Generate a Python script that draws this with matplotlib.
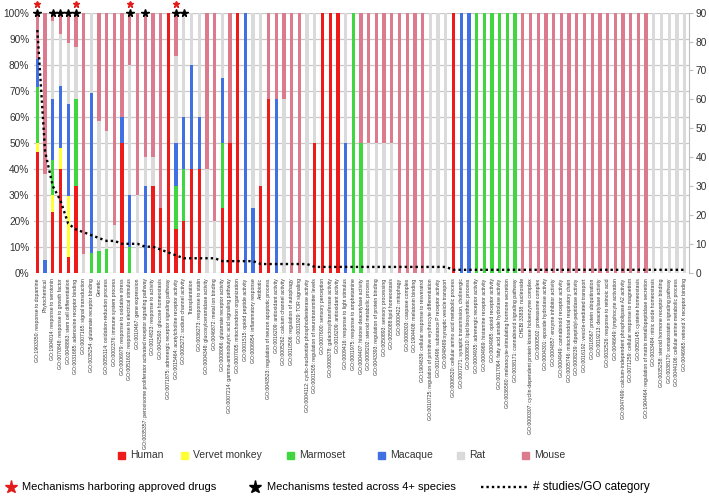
import matplotlib
import numpy as np

matplotlib.use("Agg")

from matplotlib import pyplot as plt  # noqa: E402
from matplotlib.lines import Line2D  # noqa: E402
from matplotlib.patches import Rectangle  # noqa: E402

labels = [
    "GO:1903350: response to dopamine", "Phytochemical", "GO:1904014: response to serotonin",
    "GO:0070848: response to growth factor", "GO:0048863: stem cell differentiation",
    "GO:0031685: adenosine receptor binding", "GO:0007165: signal transduction",
    "GO:0035254: glutamate receptor binding", "Genetic", "GO:0055114: oxidation-reduction process",
    "GO:0002376: immune system process", "GO:0006979: response to oxidative stress",
    "GO:0051602: response to electrical stimulus", "GO:0010467: gene expression",
    "GO:0035357: peroxisome proliferator activated receptor signaling pathway",
    "GO:0014823: response to activity", "GO:0042593: glucose homeostasis",
    "GO:0071875: adrenergic receptor signaling pathway", "GO:0015464: acetylcholine receptor activity",
    "GO:0005272: sodium channel activity", "Transplantation", "GO:0036273: response to statin",
    "GO:0004348: glucosylceramidase activity", "GO:0046872: metal ion binding",
    "GO:0008066: glutamate receptor activity", "GO:0007214: gamma-aminobutyric acid signaling pathway",
    "GO:0007005: mitochondrion organization", "GO:0001515: opioid peptide activity",
    "GO:0006954: inflammatory response", "Antibiotic",
    "GO:0043523: regulation of neuron apoptotic process", "GO:0016209: antioxidant activity",
    "GO:0005262: calcium channel activity", "GO:0010506: regulation of autophagy",
    "GO:0031929: TOR signaling", "GO:0004112: cyclic-nucleotide phosphodiesterase activity",
    "GO:0001505: regulation of neurotransmitter levels", "GO:0007600: sensory perception",
    "GO:0008378: galactosyltransferase activity", "GO:0016209: antioxidant activity",
    "GO:0009416: response to light stimulus", "GO:0001975: response to amphetamine",
    "GO:0004407: histone deacetylase activity", "GO:0008202: steroid metabolic process",
    "GO:0043393: regulation of protein binding", "GO:0050893: sensory processing",
    "GO:0055088:lipid homeostasis", "GO:0000422: mitophagy", "GO:0008303: caspase complex",
    "GO:1904408: melatonin binding", "GO:1904639: cellular response to resveratrol",
    "GO:0010725: regulation of primitive erythrocyte differentiation",
    "GO:0016496: substance P receptor activity", "GO:0048489:synaptic vesicle transport",
    "GO:0006520: cellular amino acid metabolic process", "GO:0007271: synaptic transmission, cholinergic",
    "GO:0008610: lipid biosynthetic process", "GO:0004935: adrenergic receptor activity",
    "GO:0004969: histamine receptor activity", "GO:0004985: opioid receptor activity",
    "GO:0017064: fatty acid amide hydrolase activity",
    "GO:0036580: melanocyte-stimulating hormone secretion",
    "GO:0038171: cannabinoid signaling pathway", "CHEBI:33838: nucleoside",
    "GO:0000307: cyclin-dependent protein kinase holoenzyme complex", "GO:0000502: proteasome complex",
    "GO:0004301: epoxide hydrolase activity", "GO:0004857: enzyme inhibitor activity",
    "GO:0004949: cannabinoid receptor activity", "GO:0005746: mitochondrial respiratory chain",
    "GO:0008239: dipeptidyl-peptidase activity", "GO:0016192: vesicle-mediated transport",
    "GO:0016567: protein ubiquitination", "GO:0019213: deacetylase activity",
    "GO:0032526: response to retinoic acid", "GO:0046649: lymphocyte activation",
    "GO:0047499: calcium-independent phospholipase A2 activity",
    "GO:0071259: cellular response to magnetism", "GO:0050145: cysteine homeostasis",
    "GO:1904464: regulation of matrix metallopeptidase secretion",
    "GO:0033484: nitric oxide homeostasis", "GO:0035258: steroid hormone receptor binding",
    "GO:0038170: somatostatin signaling pathway", "GO:0044106: cellular amine metabolic process",
    "GO:0046965: retinoid X receptor binding",
]

# number of studies per species and GO category
human = [39, 0, 7, 10, 1, 5, 0, 0, 0, 0, 0, 5, 0, 0, 0, 3, 2,
         7, 1, 1, 2, 2, 0, 0, 1, 2, 4, 0, 0, 1, 2, 0, 0, 0,
         0, 0, 1, 2, 2, 2, 0, 0, 0, 0, 0, 0, 0, 0, 0, 0, 0,
         0, 0, 0, 1, 0, 0, 0, 0, 0, 0, 0, 0, 0, 0, 0, 0, 0,
         0, 0, 0, 0, 0, 0, 0, 0, 0, 0, 0, 0, 0, 0, 0, 0, 0]
vervet = [3, 0, 2, 2, 4, 0, 0, 0, 0, 0, 0, 0, 0, 0, 0, 0, 0,
          0, 0, 0, 0, 0, 0, 0, 0, 0, 0, 0, 0, 0, 0, 0, 0, 0,
          0, 0, 0, 0, 0, 0, 0, 0, 0, 0, 0, 0, 0, 0, 0, 0, 0,
          0, 0, 0, 0, 0, 0, 0, 0, 0, 0, 0, 0, 0, 0, 0, 0, 0,
          0, 0, 0, 0, 0, 0, 0, 0, 0, 0, 0, 0, 0, 0, 0, 0, 0]
marmoset = [18, 0, 4, 0, 0, 5, 0, 1, 1, 1, 0, 0, 1, 0, 0, 0, 0,
            0, 1, 1, 0, 0, 0, 0, 1, 0, 0, 0, 0, 0, 0, 0, 0, 0,
            0, 0, 0, 0, 0, 0, 0, 2, 1, 0, 0, 0, 0, 0, 0, 0, 0,
            0, 0, 0, 0, 0, 0, 1, 1, 1, 1, 1, 1, 0, 0, 0, 0, 0,
            0, 0, 0, 0, 0, 0, 0, 0, 0, 0, 0, 0, 0, 0, 0, 0, 0]
macaque = [9, 2, 7, 6, 6, 0, 0, 8, 0, 0, 0, 1, 2, 0, 3, 0, 0,
           0, 1, 1, 2, 1, 0, 0, 1, 0, 0, 4, 1, 0, 0, 2, 0, 0,
           0, 0, 0, 0, 0, 0, 1, 0, 0, 0, 0, 0, 0, 0, 0, 0, 0,
           0, 0, 0, 0, 1, 1, 0, 0, 0, 0, 0, 0, 0, 0, 0, 0, 0,
           0, 0, 0, 0, 0, 0, 0, 0, 0, 0, 0, 0, 0, 0, 0, 0, 0]
rat = [0, 14, 9, 5, 4, 3, 1, 4, 6, 5, 2, 0, 5, 3, 1, 1, 0,
       0, 2, 2, 1, 2, 2, 1, 1, 0, 0, 0, 3, 2, 0, 0, 2, 0,
       0, 3, 1, 0, 0, 0, 1, 0, 0, 1, 1, 1, 1, 0, 0, 0, 0,
       2, 2, 2, 0, 0, 0, 0, 0, 0, 0, 0, 0, 0, 0, 0, 0, 0,
       0, 0, 0, 0, 0, 0, 0, 0, 0, 0, 0, 0, 1, 1, 1, 1, 1]
mouse = [15, 26, 1, 2, 2, 2, 13, 0, 5, 5, 9, 4, 2, 7, 5, 5, 6,
         0, 1, 0, 0, 0, 3, 4, 0, 2, 0, 0, 0, 0, 1, 1, 1, 3,
         3, 0, 0, 0, 0, 0, 0, 0, 1, 1, 1, 1, 1, 2, 2, 2, 2,
         0, 0, 0, 0, 0, 0, 0, 0, 0, 0, 0, 0, 1, 1, 1, 1, 1,
         1, 1, 1, 1, 1, 1, 1, 1, 1, 1, 1, 1, 0, 0, 0, 0, 0]

species = ["Human", "Vervet monkey", "Marmoset", "Macaque", "Rat", "Mouse"]
colors = ["#ee1b1b", "#ffff33", "#40d640", "#4170e3", "#dadada", "#db7b8d"]

red_star_idx = [0, 5, 12, 18]
black_star_idx = [0, 2, 3, 4, 5, 12, 14, 18, 19]

plt.rcParams["font.family"] = ["Liberation Sans", "DejaVu Sans"]
TEXT = "#333333"

counts = np.array([human, vervet, marmoset, macaque, rat, mouse], dtype=float)
totals = counts.sum(axis=0)
pct = counts / totals * 100
x = np.arange(len(labels))

W, H = 709, 499
fig = plt.figure(figsize=(W / 100, H / 100), dpi=100)
ax = fig.add_axes([33.5 / W, 1 - 272.7 / H, 655 / W, 260 / H])

bottom = np.zeros(len(labels))
for row, color in zip(pct, colors):
    ax.bar(x, row, bottom=bottom, width=0.42, color=color, zorder=2)
    bottom += row

ax.set_xlim(-0.5, len(labels) - 0.5)
ax.set_ylim(0, 100)
ax.set_yticks(np.arange(0, 101, 10))
ax.set_yticklabels([f"{v}%" for v in range(0, 101, 10)])
ax.yaxis.grid(True, color="#c8c8c8", lw=0.9, zorder=0)
ax.set_axisbelow(True)
for s in ax.spines.values():
    s.set_visible(False)
ax.tick_params(axis="y", length=0, labelsize=7.3, pad=3, colors=TEXT)
ax.set_xticks(x)
ax.set_xticklabels(labels, rotation=90, fontsize=3.7, color=TEXT)
ax.tick_params(axis="x", length=0, pad=4)

# stars above the bars
ax.plot(x[black_star_idx], [100] * len(black_star_idx), ls="none", marker="*",
        ms=5.5, color="black", clip_on=False, zorder=5)
ax.plot(x[red_star_idx], [103.2] * len(red_star_idx), ls="none", marker="*",
        ms=5, color="#e21b1b", clip_on=False, zorder=5)

ax2 = ax.twinx()
ax2.plot(x, totals, color="black", ls=(0, (1, 1.3)), lw=1.7, zorder=3)
ax2.set_ylim(0, 90)
ax2.set_yticks(range(0, 91, 10))
for s in ["top", "left", "bottom"]:
    ax2.spines[s].set_visible(False)
ax2.spines["right"].set_color("#bfbfbf")
ax2.tick_params(axis="y", length=3, color="#bfbfbf", labelsize=7.3, pad=2, labelcolor=TEXT)


def fx(px):
    return px / W


def fy(py):
    return 1 - py / H


# legend row 1: species colours
legend_x = [118, 181, 287, 378, 457, 522]
for name, color, lx in zip(species, colors, legend_x):
    fig.add_artist(Rectangle((fx(lx), fy(459)), 7 / W, 7 / H, color=color,
                             transform=fig.transFigure))
    fig.text(fx(lx + 12), fy(455.5), name, fontsize=7.5, va="center", color=TEXT)

# legend row 2
fig.add_artist(Line2D([fx(11)], [fy(487)], marker="*", ms=9.5, color="#e21b1b", ls="none",
                      transform=fig.transFigure))
fig.text(fx(22), fy(487), "Mechanisms harboring approved drugs", fontsize=8, va="center", color="black")
fig.add_artist(Line2D([fx(255)], [fy(487)], marker="*", ms=9.5, color="black", ls="none",
                      transform=fig.transFigure))
fig.text(fx(267), fy(487), "Mechanisms tested across 4+ species", fontsize=8, va="center", color="black")
fig.add_artist(Line2D([fx(481), fx(527)], [fy(487), fy(487)], color="black", ls=(0, (1, 1.3)),
                      lw=1.7, transform=fig.transFigure))
fig.text(fx(533), fy(487), "# studies/GO category", fontsize=8.5, va="center", color="black")

fig.savefig("out.png", dpi=100)
plt.close(fig)
